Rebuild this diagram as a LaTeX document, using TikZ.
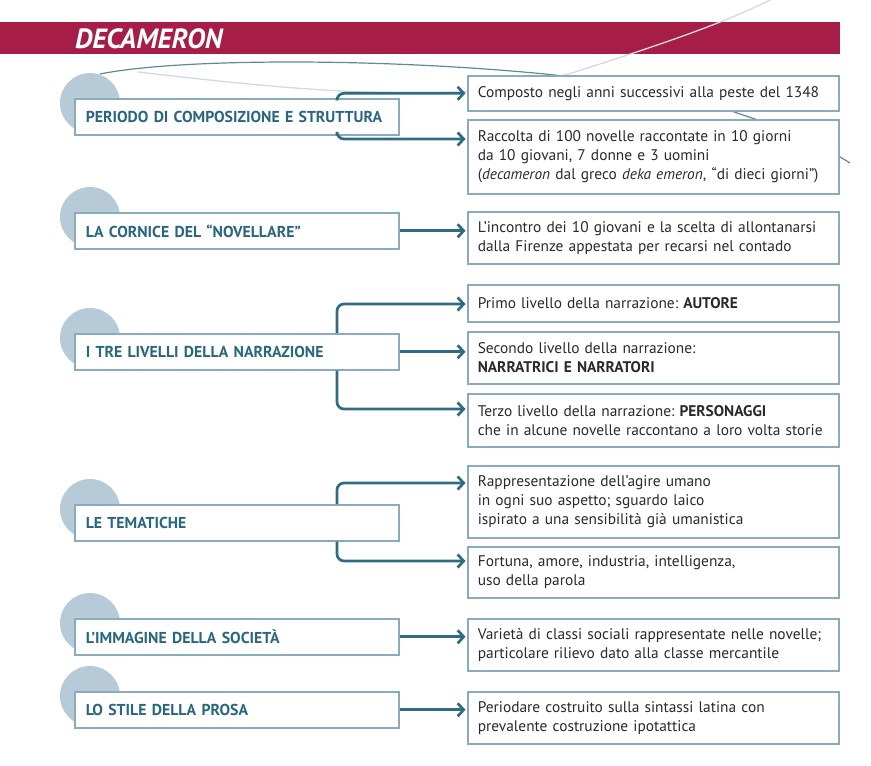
\documentclass[tikz,border=0pt]{standalone}
\usepackage{fontspec}
\setmainfont{PT Sans}
\usetikzlibrary{arrows.meta}
\definecolor{bandred}{HTML}{A61E47}
\definecolor{conncol}{HTML}{2F6B82}
\definecolor{lefttext}{HTML}{2A6680}
\definecolor{boxline}{HTML}{8AABBC}
\definecolor{circfill}{HTML}{B7CAD7}
\definecolor{bodytext}{HTML}{2A2A2A}
\definecolor{arcdark}{HTML}{5F889B}
\definecolor{arclight}{HTML}{D3DADE}
\tikzset{
  lbox/.style={draw=boxline, line width=1.6pt, fill=white, anchor=north west,
    minimum height=36pt, text width=302pt, inner xsep=11pt, inner ysep=0pt, align=left,
    text=lefttext, font=\fontsize{15.8}{18}\selectfont\bfseries},
  rbox/.style={draw=boxline, line width=1.6pt, fill=white, anchor=north west,
    text width=351pt, inner xsep=10pt, inner ysep=0pt, align=left,
    text=bodytext, font=\fontsize{15.4}{19}\selectfont},
  blob/.style={fill=circfill},
  conn/.style={draw=conncol, line width=2.7pt, rounded corners=7pt, shorten >=1.5pt,
    -{Straight Barb[length=6pt,width=13pt]}},
  deco1/.style={draw=arcdark, line width=1.2pt},
  deco2/.style={draw=arclight, line width=1.3pt}
}
\begin{document}
\frenchspacing
\hyphenpenalty=10000
\begin{tikzpicture}[x=1pt,y=-1pt]
\useasboundingbox (0,0) rectangle (871,766);
% header band
\fill[bandred] (0,22) rectangle (840,54);
\node[anchor=base west, text=white, inner sep=0pt,
  font=\fontsize{27.8}{28}\selectfont\bfseries\itshape] (title) at (75,48) {DECAMERON};
% decorative curves
\draw[deco1] (100,74) .. controls (180,58) and (380,58) .. (545,74)
  .. controls (640,84) and (700,100) .. (740,114)
  .. controls (790,130) and (830,150) .. (850,163);
\draw[deco2] (138,72) .. controls (250,85) and (330,93) .. (420,93)
  .. controls (500,93) and (540,82) .. (575,72)
  .. controls (650,48) and (720,25) .. (770,0);
% circles
\foreach \t in {98,212,333,504,618,691}{
  \fill[blob] (90,\t+5) circle (30pt);
}
% left boxes
\node[lbox] (L1) at (74,98) {PERIODO DI COMPOSIZIONE E STRUTTURA};
\node[lbox] (L2) at (74,212) {LA CORNICE DEL “NOVELLARE”};
\node[lbox] (L3) at (74,333) {I TRE LIVELLI DELLA NARRAZIONE};
\node[lbox] (L4) at (74,504) {LE TEMATICHE};
\node[lbox] (L5) at (74,618) {L’IMMAGINE DELLA SOCIETÀ};
\node[lbox] (L6) at (74,691) {LO STILE DELLA PROSA};
% right boxes
\node[rbox, minimum height=35pt] (R1) at (467,75) {Composto negli anni successivi alla peste del 1348};
\node[rbox, minimum height=74pt] (R2) at (467,119) {Raccolta di 100 novelle raccontate in 10 giorni\\da 10 giovani, 7 donne e 3 uomini\\(\textit{decameron} dal greco \textit{deka emeron}, “di dieci giorni”)};
\node[rbox, minimum height=52pt] (R3) at (467,211) {L’incontro dei 10 giovani e la scelta di allontanarsi\\dalla Firenze appestata per recarsi nel contado};
\node[rbox, minimum height=37pt] (RA) at (467,284) {Primo livello della narrazione: \textbf{AUTORE}};
\node[rbox, minimum height=52pt] (RB) at (467,331) {Secondo livello della narrazione:\\\textbf{NARRATRICI E NARRATORI}};
\node[rbox, minimum height=53pt] (RC) at (467,393) {Terzo livello della narrazione: \textbf{PERSONAGGI}\\che in alcune novelle raccontano a loro volta storie};
\node[rbox, minimum height=72pt] (RD) at (467,465) {Rappresentazione dell’agire umano\\in ogni suo aspetto; sguardo laico\\ispirato a una sensibilità già umanistica};
\node[rbox, minimum height=51pt] (RE) at (467,546) {Fortuna, amore, industria, intelligenza,\\uso della parola};
\node[rbox, minimum height=52pt] (RF) at (467,618) {Varietà di classi sociali rappresentate nelle novelle;\\particolare rilievo dato alla classe mercantile};
\node[rbox, minimum height=52pt] (RG) at (467,691) {Periodare costruito sulla sintassi latina con\\prevalente costruzione ipotattica};
% fork x position
\coordinate (F) at (337,0);
% connectors
\draw[conn] (L1.north -| F) |- (R1.west);
\draw[conn] (L1.south -| F) |- ([yshift=-20pt]R2.north west);
\draw[conn] (L2.east) -- (L2.east -| R3.west);
\draw[conn] (L3.north -| F) |- ([yshift=-20pt]RA.north west);
\draw[conn] (L3.east) -- (L3.east -| RB.west);
\draw[conn] (L3.south -| F) |- ([yshift=-16pt]RC.north west);
\draw[conn] (L4.north -| F) |- ([yshift=-18pt]RD.north west);
\draw[conn] (L4.south -| F) |- ([yshift=-15pt]RE.north west);
\draw[conn] (L5.east) -- (L5.east -| RF.west);
\draw[conn] (L6.east) -- (L6.east -| RG.west);
\end{tikzpicture}
\end{document}
